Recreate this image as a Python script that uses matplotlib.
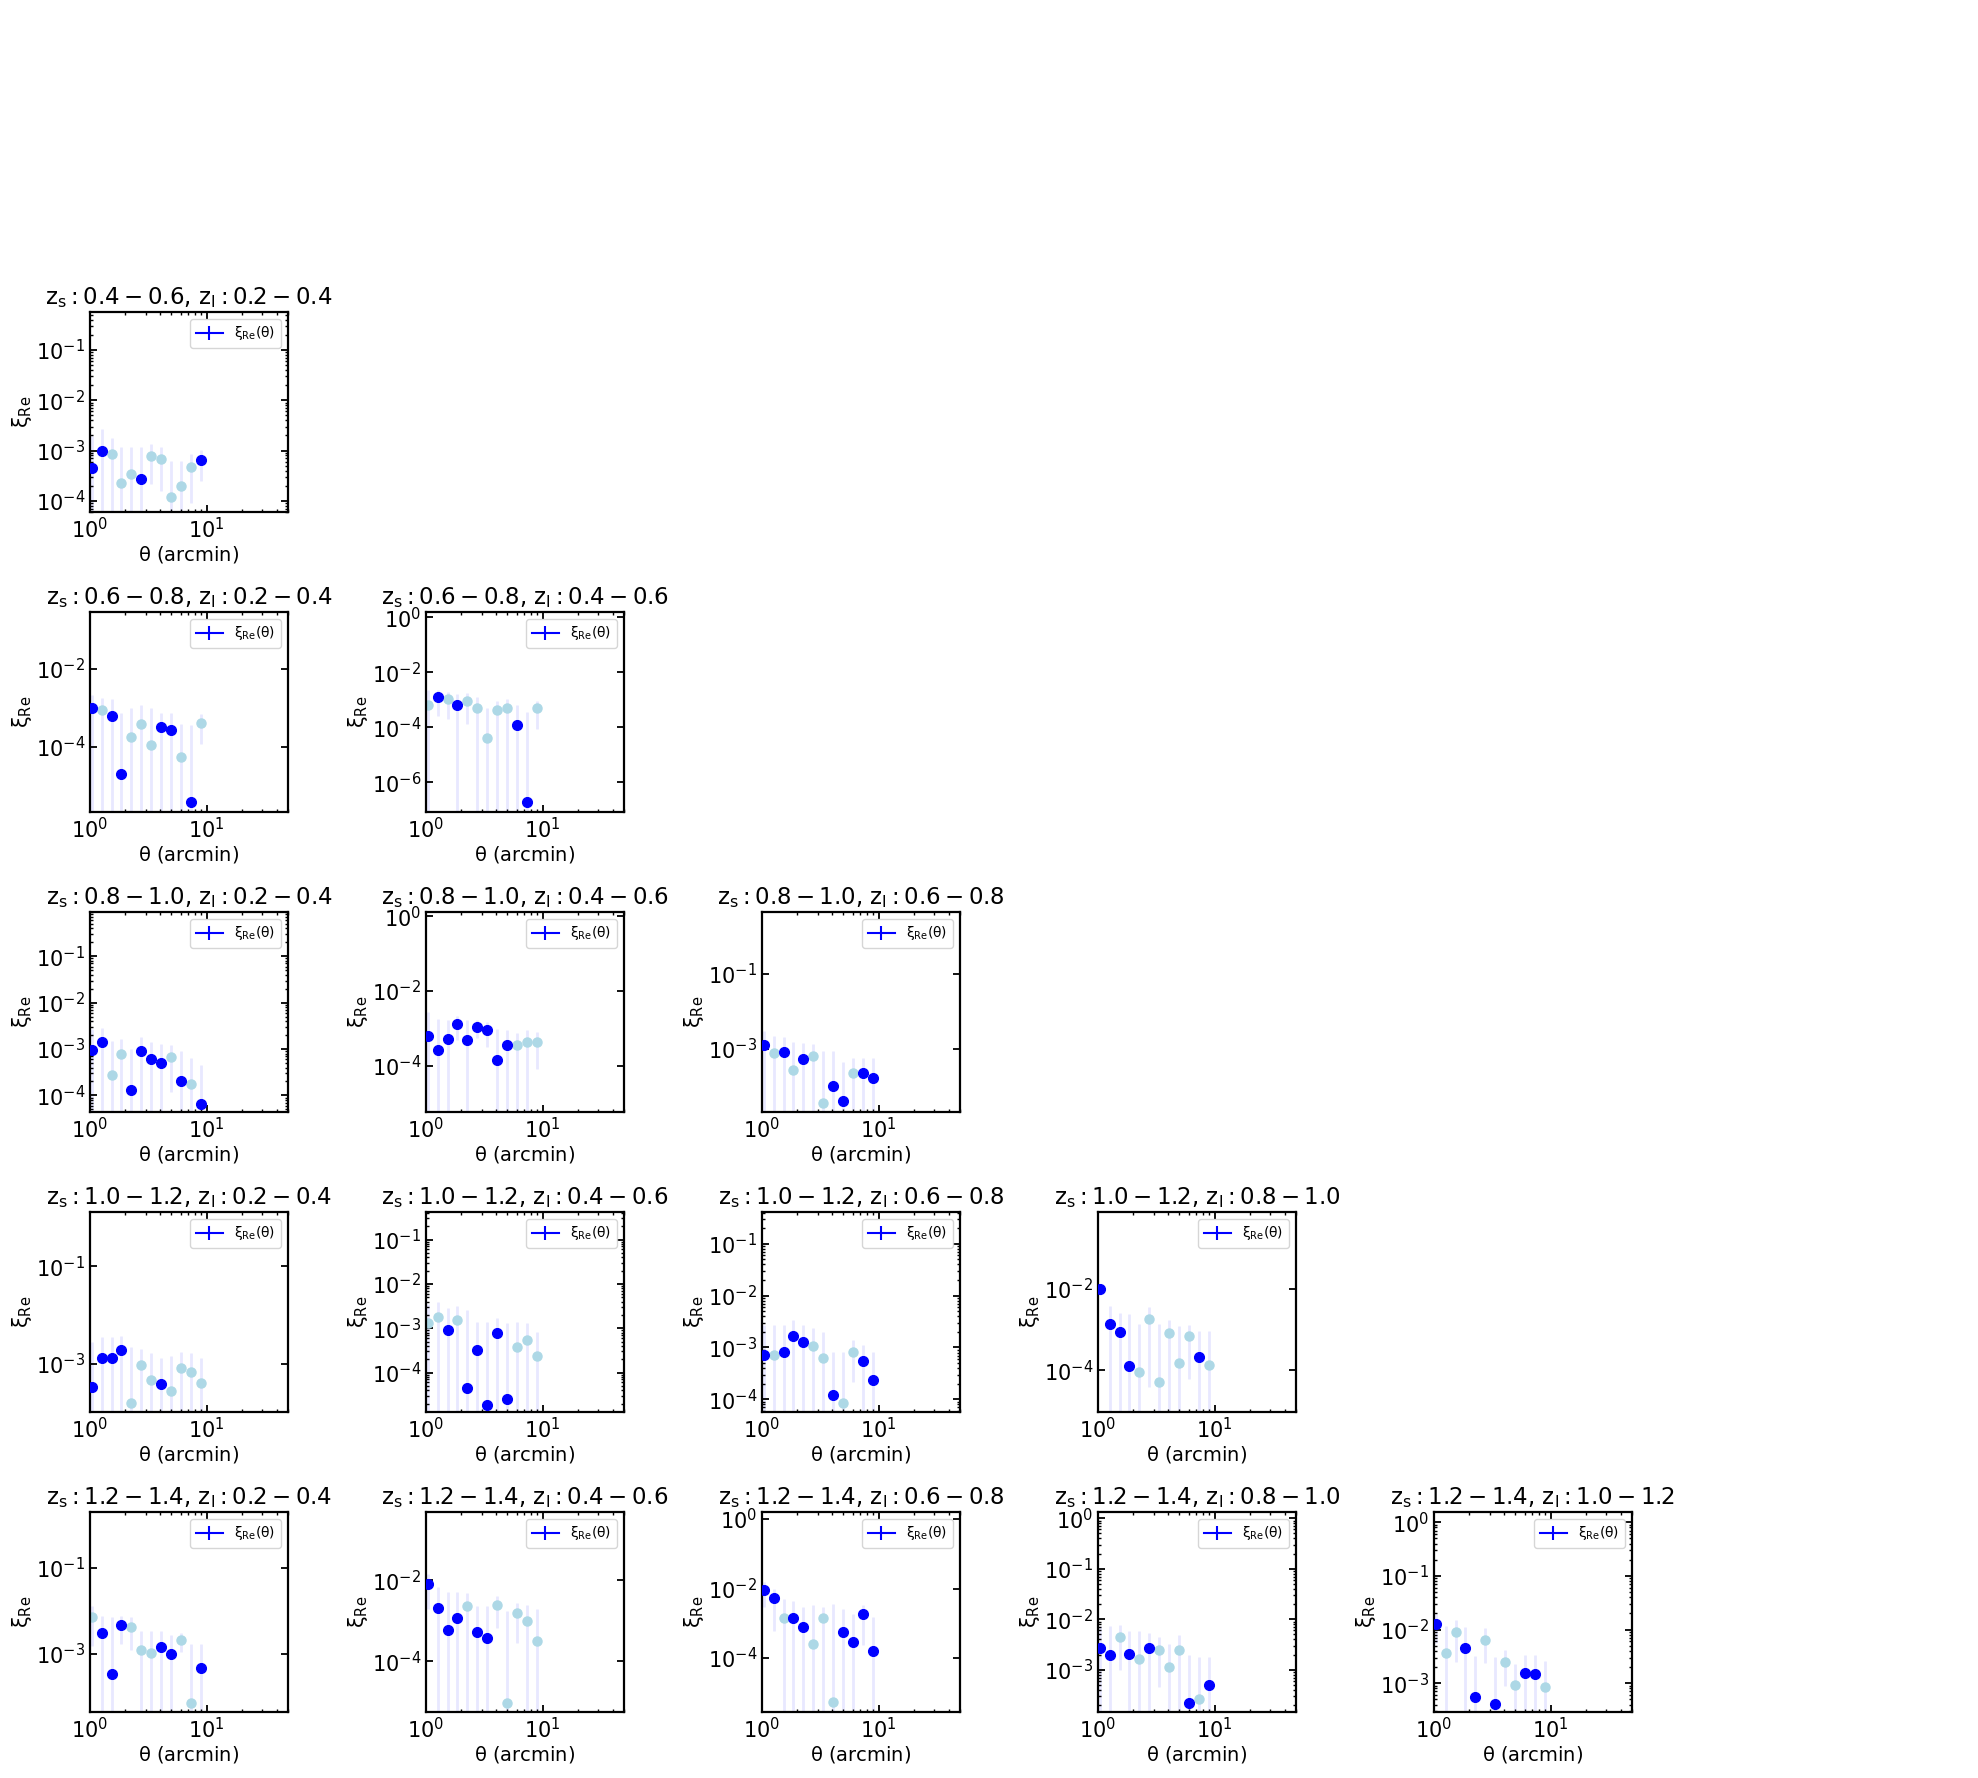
import numpy as np
import matplotlib
matplotlib.use("Agg")
import matplotlib.pyplot as plt
from matplotlib.ticker import FixedLocator, LogLocator, NullLocator, LogFormatterSciNotation

plt.rcParams['mathtext.default'] = 'regular'

# angular bins (arcmin)
theta = [1.05, 1.27, 1.54, 1.86, 2.26, 2.76, 3.36, 4.09, 4.97, 6.04, 7.34, 8.95]

zbins = ['0.2-0.4', '0.4-0.6', '0.6-0.8', '0.8-1.0', '1.0-1.2', '1.2-1.4']

# signed xi_Re values (negative -> plotted light blue as |xi|) and errors
xi_04_02 = [4.5e-4, 9.8e-4, -8.7e-4, -2.3e-4, -3.4e-4, 2.7e-4, -7.8e-4, -6.8e-4, -1.18e-4, -2.0e-4, -4.7e-4, 6.4e-4]
er_04_02 = [1.5e-3, 1.7e-3, 0.9e-3, 9.4e-4, 8.3e-4, 9e-4, 5.6e-4, 5.2e-4, 4.9e-4, 4.1e-4, 3.8e-4, 3.9e-4]

xi_06_02 = [9.7e-4, -8.8e-4, 6.3e-4, 2.0e-5, -1.8e-4, -3.8e-4, -1.12e-4, 3.3e-4, 2.7e-4, -5.5e-5, 3.8e-6, -4.0e-4]
er_06_02 = [1.2e-3, 0.9e-3, 1.1e-3, 7e-4, 8e-4, 8e-4, 9e-4, 4e-4, 4.5e-4, 3.4e-4, 3.5e-4, 2.8e-4]

xi_06_04 = [-6.7e-4, 1.3e-3, -1.1e-3, 6.7e-4, -9.3e-4, -5.2e-4, -4.0e-5, -4.3e-4, -5.0e-4, 1.23e-4, 1.9e-7, -5.0e-4]
er_06_04 = [1.6e-3, 1.05e-3, 0.9e-3, 1.0e-3, 0.8e-3, 0.7e-3, 4.8e-4, 5e-4, 5.5e-4, 5.2e-4, 3.5e-4, 4.1e-4]

xi_08_02 = [9.7e-4, 1.39e-3, -2.75e-4, -7.7e-4, 1.28e-4, 8.9e-4, 6.1e-4, 4.9e-4, -6.8e-4, 2.0e-4, -1.74e-4, 6.7e-5]
er_08_02 = [1.8e-3, 1.5e-3, 1.2e-3, 0.9e-3, 0.9e-3, 0.9e-3, 0.8e-3, 0.8e-3, 5.6e-4, 7e-4, 4.7e-4, 3.9e-4]

xi_08_04 = [6.4e-4, 2.66e-4, 5.1e-4, 1.3e-3, 4.8e-4, 1.12e-3, 9.1e-4, 1.44e-4, 3.7e-4, -3.7e-4, -4.4e-4, -4.3e-4]
er_08_04 = [2.2e-3, 1.5e-3, 1.2e-3, 0.8e-3, 1.2e-3, 0.55e-3, 0.6e-3, 0.8e-3, 0.56e-3, 4e-4, 4.5e-4, 3.5e-4]

xi_08_06 = [1.3e-3, -7.8e-4, 8.3e-4, -2.8e-4, 5.4e-4, -6.5e-4, -3.7e-5, 1.02e-4, 4.1e-5, -2.26e-4, 2.35e-4, 1.7e-4]
er_08_06 = [1.6e-3, 1.4e-3, 1.2e-3, 1.2e-3, 0.9e-3, 0.7e-3, 8.3e-4, 7.7e-4, 4e-4, 3.5e-4, 3.5e-4, 4.1e-4]

xi_10_02 = [3.3e-4, 1.28e-3, 1.28e-3, 1.87e-3, -1.55e-4, -9.4e-4, -4.57e-4, 3.85e-4, -2.7e-4, -8.3e-4, -6.9e-4, -4.0e-4]
er_10_02 = [2.5e-3, 2.2e-3, 2.2e-3, 1.8e-3, 2.0e-3, 1.1e-3, 1.2e-3, 0.9e-3, 1.2e-3, 0.9e-3, 1.0e-3, 0.9e-3]

xi_10_04 = [-1.3e-3, -1.75e-3, 9.3e-4, -1.52e-3, 4.5e-5, 3.2e-4, 1.9e-5, 7.9e-4, 2.5e-5, -3.7e-4, -5.3e-4, -2.4e-4]
er_10_04 = [2.3e-3, 2.1e-3, 1.9e-3, 1.7e-3, 2.5e-3, 1.1e-3, 1.4e-3, 0.95e-3, 1.3e-3, 1.0e-3, 0.8e-3, 5.7e-4]

xi_10_06 = [7.3e-4, -7.1e-4, 8.2e-4, 1.68e-3, 1.29e-3, -1.06e-3, -6.2e-4, 1.21e-4, -8.6e-5, -8.1e-4, 5.4e-4, 2.4e-4]
er_10_06 = [2.0e-3, 2.0e-3, 1.9e-3, 1.65e-3, 1.4e-3, 1.3e-3, 1.4e-3, 7e-4, 7.5e-4, 5.9e-4, 5.8e-4, 5.9e-4]

xi_10_08 = [1.0e-2, 1.36e-3, 8.7e-4, 1.3e-4, -8.9e-5, -1.84e-3, -5.3e-5, -8.4e-4, -1.5e-4, -6.8e-4, 2.1e-4, -1.33e-4]
er_10_08 = [3e-3, 2.4e-3, 1.6e-3, 2.2e-3, 1.3e-3, 1.8e-3, 1.3e-3, 9e-4, 1.1e-3, 6.2e-4, 7e-4, 7.7e-4]

xi_12_02 = [-7.2e-3, 3.05e-3, 3.3e-4, 4.7e-3, -4.2e-3, -1.22e-3, -1.05e-3, 1.43e-3, 9.8e-4, -2.09e-3, -7e-5, 4.6e-4]
er_12_02 = [5.7e-3, 4.5e-3, 7e-3, 3e-3, 3e-3, 2.2e-3, 2.3e-3, 1.9e-3, 1.8e-3, 1.0e-3, 1.6e-3, 1.2e-3]

xi_12_04 = [8.0e-3, 2.07e-3, 5.9e-4, 1.17e-3, -2.37e-3, 5.3e-4, 3.8e-4, -2.4e-3, -9.1e-6, -1.53e-3, -1.01e-3, -3.1e-4]
er_12_04 = [6e-3, 4.8e-3, 4.4e-3, 3.8e-3, 2.5e-3, 1.8e-3, 1.9e-3, 1.75e-3, 1.75e-3, 1.25e-3, 1.5e-3, 1.6e-3]

xi_12_06 = [8.95e-3, 5.3e-3, -1.44e-3, 1.41e-3, 7.6e-4, -2.5e-4, -1.41e-3, -5.4e-6, 5.6e-4, 2.9e-4, 1.83e-3, 1.63e-4]
er_12_06 = [6e-3, 4.7e-3, 3.7e-3, 3e-3, 2.1e-3, 3.2e-3, 1.6e-3, 3.5e-3, 2.1e-3, 1.6e-3, 1.6e-3, 1.4e-3]

xi_12_08 = [2.64e-3, 2.0e-3, -4.4e-3, 2.1e-3, -1.65e-3, 2.68e-3, -2.45e-3, -1.13e-3, -2.48e-3, 2.2e-4, -2.6e-4, 4.9e-4]
er_12_08 = [4.8e-3, 5.4e-3, 3.4e-3, 3.8e-3, 4.2e-3, 2.7e-3, 2.0e-3, 2.1e-3, 2.5e-3, 1.7e-3, 1.5e-3, 1.3e-3]

xi_12_10 = [1.25e-2, -3.7e-3, -8.9e-3, 4.6e-3, 5.6e-4, -6.5e-3, 4.1e-4, -2.48e-3, -9.3e-4, 1.58e-3, 1.51e-3, -8.3e-4]
er_12_10 = [7e-3, 8e-3, 6.4e-3, 6.6e-3, 2.6e-3, 4.1e-3, 2.7e-3, 1.6e-3, 1.3e-3, 1.7e-3, 1.8e-3, 1.8e-3]

# y-axis ranges and labelled decades (exponents) per panel
ylims = {
    (1, 0): (6e-5, 0.57), (2, 0): (2.1e-6, 0.29), (2, 1): (8.3e-8, 1.57),
    (3, 0): (4.4e-5, 0.9), (3, 1): (5.8e-6, 1.31), (3, 2): (2.1e-5, 4.3),
    (4, 0): (1.02e-4, 1.29), (4, 1): (1.29e-5, 0.42), (4, 2): (5.7e-5, 0.41), (4, 3): (9.5e-6, 0.755),
    (5, 0): (4.3e-5, 2.05), (5, 1): (5.6e-6, 0.48), (5, 2): (2.8e-6, 1.59), (5, 3): (1.46e-4, 1.33), (5, 4): (2.9e-4, 1.55),
}
ydecades = {
    (1, 0): [-1, -2, -3, -4], (2, 0): [-2, -4], (2, 1): [0, -2, -4, -6],
    (3, 0): [-1, -2, -3, -4], (3, 1): [0, -2, -4], (3, 2): [-1, -3],
    (4, 0): [-1, -3], (4, 1): [-1, -2, -3, -4], (4, 2): [-1, -2, -3, -4], (4, 3): [-2, -4],
    (5, 0): [-1, -3], (5, 1): [-2, -4], (5, 2): [0, -2, -4], (5, 3): [0, -1, -2, -3], (5, 4): [0, -1, -2, -3],
}

panels = {
    (1, 0): (xi_04_02, er_04_02),
    (2, 0): (xi_06_02, er_06_02), (2, 1): (xi_06_04, er_06_04),
    (3, 0): (xi_08_02, er_08_02), (3, 1): (xi_08_04, er_08_04), (3, 2): (xi_08_06, er_08_06),
    (4, 0): (xi_10_02, er_10_02), (4, 1): (xi_10_04, er_10_04), (4, 2): (xi_10_06, er_10_06), (4, 3): (xi_10_08, er_10_08),
    (5, 0): (xi_12_02, er_12_02), (5, 1): (xi_12_04, er_12_04), (5, 2): (xi_12_06, er_12_06),
    (5, 3): (xi_12_08, er_12_08), (5, 4): (xi_12_10, er_12_10),
}

W, H = 1978, 1778
fig = plt.figure(figsize=(W / 100, H / 100), dpi=100)

ax_w, ax_h = 198, 200
lefts = [90, 426, 762, 1098, 1434]
tops = [312, 612, 912, 1212, 1512]

th = np.array(theta)
for (s, l), (xi, er) in panels.items():
    r = s - 1
    c = l
    ax = fig.add_axes([lefts[c] / W, 1 - (tops[r] + ax_h) / H, ax_w / W, ax_h / H])
    xi = np.array(xi)
    er = np.array(er)
    ay = np.abs(xi)
    ax.errorbar(th, ay, yerr=er, fmt='none', ecolor=(0, 0, 1, 0.09), elinewidth=2.0, zorder=1)
    pos = xi > 0
    ax.plot(th[~pos], ay[~pos], 'o', color='lightblue', ms=6.5, mec='lightblue', zorder=2)
    ax.plot(th[pos], ay[pos], 'o', color='blue', ms=7, mec='blue', zorder=3)
    ax.errorbar([np.nan], [np.nan], yerr=[np.nan], color='blue', ls='-', lw=1.5,
                label=r'$\xi_{Re}(\theta)$')
    ax.set_xscale('log')
    ax.set_yscale('log')
    ax.set_xlim(1, 50)
    ax.set_ylim(*ylims[(s, l)])
    decs = ydecades[(s, l)]
    ax.yaxis.set_major_locator(FixedLocator([10.0 ** d for d in decs]))
    ax.yaxis.set_major_formatter(LogFormatterSciNotation())
    stride = abs(decs[0] - decs[1]) if len(decs) > 1 else 1
    if stride == 1:
        ax.yaxis.set_minor_locator(LogLocator(subs=np.arange(2, 10)))
    else:
        ax.yaxis.set_minor_locator(NullLocator())
    ax.tick_params(which='both', direction='in', top=True, right=True, labelsize=15)
    ax.tick_params(which='major', length=5, width=1.3)
    ax.tick_params(which='minor', length=2.5, width=1.0)
    for sp in ax.spines.values():
        sp.set_linewidth(1.6)
    ax.set_xlabel(r'$\theta$ (arcmin)', fontsize=14, labelpad=1.5)
    ax.set_ylabel(r'$\xi_{Re}$', fontsize=15, labelpad=1.5)
    ax.set_title(r'$z_s: %s$, $z_l: %s$' % (zbins[s].replace('-', ' - '), zbins[l].replace('-', ' - ')),
                 fontsize=16.5)
    ax.legend(loc='upper right', fontsize=10)

fig.savefig('out.png', dpi=100)
